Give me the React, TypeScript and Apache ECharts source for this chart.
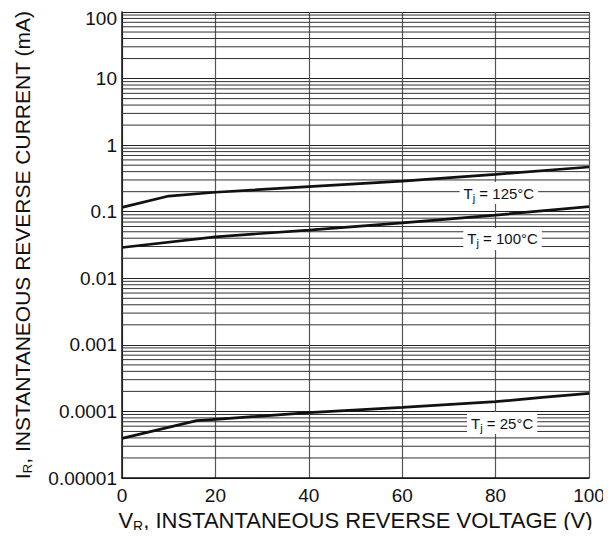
import React, { useEffect, useRef } from "react";
import * as echarts from "echarts";

const vr125 = [0, 10, 20, 40, 60, 80, 100];
const ir125 = [0.116, 0.172, 0.196, 0.238, 0.289, 0.365, 0.47];
const vr100 = [0, 20, 40, 60, 80, 100];
const ir100 = [0.029, 0.042, 0.053, 0.068, 0.089, 0.119];
const vr25 = [0, 16, 20, 40, 60, 80, 90, 100];
const ir25 = [3.94e-5, 7.26e-5, 7.6e-5, 9.6e-5, 1.15e-4, 1.4e-4, 1.63e-4, 1.87e-4];

const yTickLabels = ["0.00001", "0.0001", "0.001", "0.01", "0.1", "1", "10", "100"];
const xTicks = [0, 20, 40, 60, 80, 100];

const curveLabels = [
  { text: "125°C", v: 80.7, i: 0.191 },
  { text: "100°C", v: 81.5, i: 0.039 },
  { text: "25°C", v: 81.4, i: 6.7e-5 },
];

const minorMultipliers = [2, 3, 4, 5, 6, 7, 8, 9];
const minorDecades = [-5, -4, -3, -2, -1, 0, 1];
const minorValues: number[] = [];
for (const d of minorDecades) {
  for (const k of minorMultipliers) minorValues.push(k * Math.pow(10, d));
}

const FONT = "Liberation Sans, Arial, sans-serif";

function lineSeries(xs: number[], ys: number[], label: { text: string; v: number; i: number }) {
  return {
    type: "line",
    data: xs.map((x, k) => [x, ys[k]]),
    showSymbol: false,
    symbol: "none",
    z: 3,
    lineStyle: { color: "#111", width: 2.7 },
    silent: true,
    markPoint: {
      z: 10,
      symbol: "circle",
      symbolSize: 1,
      itemStyle: { color: "rgba(0,0,0,0)" },
      data: [
        {
          coord: [label.v, label.i],
          label: {
            show: true,
            position: "inside",
            formatter: `{t|T}{s|j}{t| = ${label.text}}`,
            backgroundColor: "#fff",
            padding: [1, 4, 1, 4],
            rich: {
              t: { fontSize: 15, fontFamily: FONT, color: "#111", lineHeight: 20, verticalAlign: "middle" },
              s: { fontSize: 11, fontFamily: FONT, color: "#111", lineHeight: 12, verticalAlign: "bottom" },
            },
          },
        },
      ],
    },
  };
}

const minorSeries = minorValues.map((v) => ({
  type: "line",
  data: [
    [0, v],
    [100, v],
  ],
  showSymbol: false,
  symbol: "none",
  silent: true,
  z: 1,
  lineStyle: { color: "#333", width: 1 },
}));

export default function App() {
  const ref = useRef<HTMLDivElement>(null);
  useEffect(() => {
    if (!ref.current) return;
    const chart = echarts.init(ref.current, undefined, { renderer: "svg" });
    chart.setOption({
      animation: false,
      backgroundColor: "#fff",
      grid: { left: 122, right: 22, top: 12, bottom: 60 },
      xAxis: {
        type: "value",
        min: 0,
        max: 100,
        interval: 20,
        name: "{t|V}{s|R}{t|, INSTANTANEOUS REVERSE VOLTAGE (V)}",
        nameLocation: "middle",
        nameGap: 28,
        nameTextStyle: {
          rich: {
            t: { fontSize: 22, fontFamily: FONT, color: "#111", lineHeight: 24, verticalAlign: "middle" },
            s: { fontSize: 14, fontFamily: FONT, color: "#111", lineHeight: 14, verticalAlign: "bottom" },
          },
        },
        axisLine: { show: true, lineStyle: { color: "#111", width: 1.5 } },
        axisTick: { show: false },
        axisLabel: {
          fontSize: 19,
          fontFamily: FONT,
          color: "#111",
          margin: 8,
          formatter: (v: number) => (xTicks.includes(v) ? String(v) : ""),
        },
        splitLine: { show: true, lineStyle: { color: "#555", width: 1.2 } },
      },
      yAxis: {
        type: "log",
        logBase: 10,
        min: 0.00001,
        max: 100,
        name: "{t|I}{s|R}{t|, INSTANTANEOUS REVERSE CURRENT (mA)}",
        nameLocation: "middle",
        nameGap: 88,
        nameRotate: 90,
        nameTextStyle: {
          rich: {
            t: { fontSize: 21, fontFamily: FONT, color: "#111", lineHeight: 24, verticalAlign: "middle" },
            s: { fontSize: 13, fontFamily: FONT, color: "#111", lineHeight: 14, verticalAlign: "bottom" },
          },
        },
        axisLine: { show: true, lineStyle: { color: "#111", width: 1.5 } },
        axisTick: { show: false },
        axisLabel: {
          fontSize: 19,
          fontFamily: FONT,
          color: "#111",
          margin: 5,
          formatter: (v: number) => {
            const idx = Math.round(Math.log10(v)) + 5;
            const s = yTickLabels[idx] ?? "";
            return idx === yTickLabels.length - 1 ? `{top|${s}}` : s;
          },
          rich: {
            top: { fontSize: 19, fontFamily: FONT, color: "#111", padding: [12, 0, 0, 0] },
          },
        },
        splitLine: { show: true, lineStyle: { color: "#222", width: 1.2 } },
      },
      series: [
        ...minorSeries,
        lineSeries(vr125, ir125, curveLabels[0]),
        lineSeries(vr100, ir100, curveLabels[1]),
        lineSeries(vr25, ir25, curveLabels[2]),
      ],
    });
    return () => chart.dispose();
  }, []);
  return <div ref={ref} style={{ width: 611, height: 538, margin: -8 }} />;
}
